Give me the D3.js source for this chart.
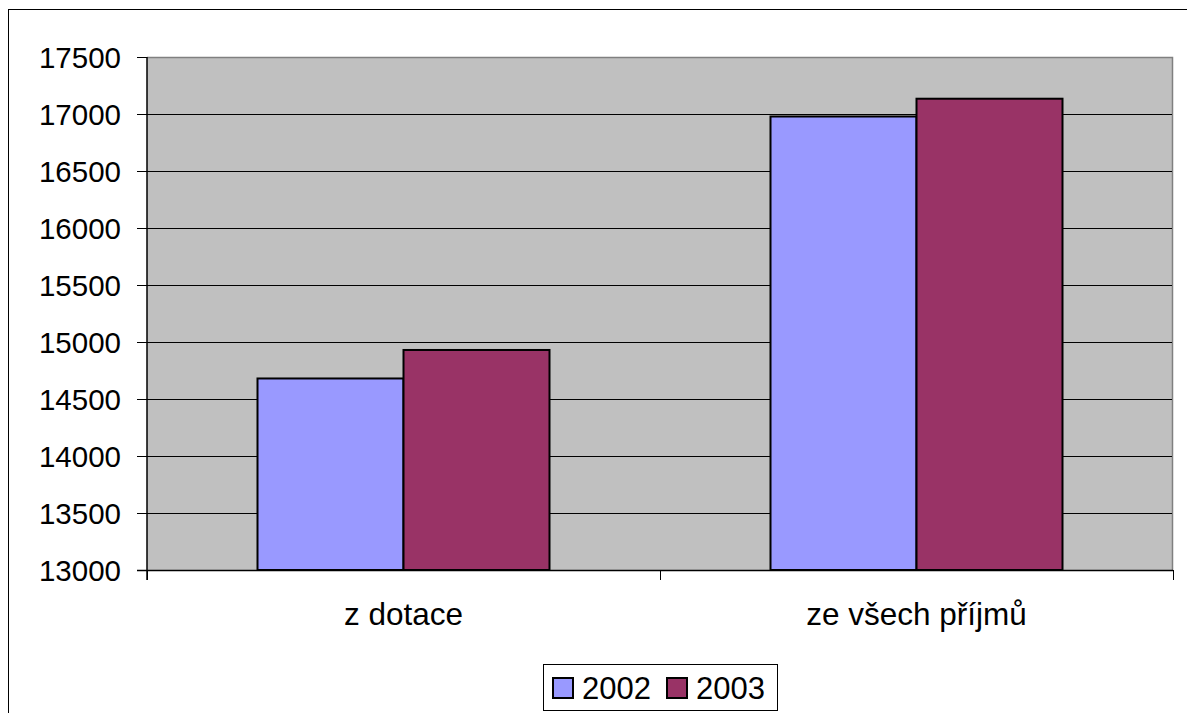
<!DOCTYPE html>
<html>
<head>
<meta charset="utf-8">
<script src="https://cdn.jsdelivr.net/npm/d3@7"></script>
<style>
  body { margin: 0; background: #fff; }
  svg { display: block; font-family: "Liberation Sans", Arial, sans-serif; }
</style>
</head>
<body>
<svg width="1187" height="713"></svg>
<script>
// chart data
var categories = ['z dotace', 'ze všech příjmů'];
var seriesNames = ['2002', '2003'];
var values2002 = [14680, 16978];
var values2003 = [14930, 17134];
var yTicks = [13000, 13500, 14000, 14500, 15000, 15500, 16000, 16500, 17000, 17500];
var colors = ['#9999FF', '#993366'];

var svg = d3.select('svg');

// outer frame (runs off the right and bottom edge)
svg.append('rect')
    .attr('x', 8.5).attr('y', 9.5)
    .attr('width', 1200).attr('height', 720)
    .attr('fill', 'none').attr('stroke', '#000').attr('stroke-width', 1);

var pLeft = 147, pRight = 1173, pTop = 57, pBottom = 570;

var x = d3.scaleBand().domain(categories).range([pLeft, pRight]).paddingInner(0).paddingOuter(0);
var y = d3.scaleLinear().domain([13000, 17500]).range([pBottom, pTop]);

// plot background
svg.append('rect')
    .attr('x', pLeft).attr('y', pTop)
    .attr('width', pRight - pLeft).attr('height', pBottom - pTop)
    .attr('fill', '#C0C0C0');
svg.append('path')
    .attr('d', 'M' + pLeft + ',' + (pTop + 0.5) + 'H' + (pRight - 0.5) + 'V' + pBottom)
    .attr('fill', 'none').attr('stroke', '#808080').attr('stroke-width', 1.5);

// gridlines
svg.append('g').selectAll('line')
    .data(yTicks.slice(1, -1))
    .enter().append('line')
    .attr('x1', pLeft).attr('x2', pRight - 1)
    .attr('y1', function(d){ return Math.round(y(d)) + 0.5; })
    .attr('y2', function(d){ return Math.round(y(d)) + 0.5; })
    .attr('stroke', '#000').attr('stroke-width', 1);

// bars
var gapFrac = 110.5 / 513;
var barW = x.bandwidth() * (1 - 2 * gapFrac) / 2;
var data = [];
categories.forEach(function(c, i){
    data.push({cat: c, s: 0, v: values2002[i]});
    data.push({cat: c, s: 1, v: values2003[i]});
});
svg.append('g').selectAll('rect')
    .data(data)
    .enter().append('rect')
    .attr('x', function(d){ return x(d.cat) + x.bandwidth() * gapFrac + d.s * barW; })
    .attr('y', function(d){ return y(d.v); })
    .attr('width', barW)
    .attr('height', function(d){ return pBottom - y(d.v); })
    .attr('fill', function(d){ return colors[d.s]; })
    .attr('stroke', '#000').attr('stroke-width', 2);

// y axis
var yAxis = d3.axisLeft(y).tickValues(yTicks).tickSize(10).tickPadding(16).tickFormat(d3.format('d'));
var ya = svg.append('g').attr('transform', 'translate(' + pLeft + ',0)').call(yAxis);
ya.select('.domain').attr('stroke', '#000').attr('stroke-width', 1.5)
    .attr('d', 'M0,' + pTop + 'V' + (pBottom + 10));
ya.selectAll('.tick line').attr('stroke', '#000');
ya.selectAll('text').attr('font-size', 29.5).attr('fill', '#000').attr('dy', '0.36em')
    .attr('font-family', '"Liberation Sans", Arial, sans-serif');

// x axis
svg.append('line')
    .attr('x1', pLeft - 10).attr('x2', pRight)
    .attr('y1', pBottom + 0.5).attr('y2', pBottom + 0.5)
    .attr('stroke', '#000').attr('stroke-width', 1.5);
var tickXs = categories.map(function(c){ return x(c); }).concat([pRight]);
svg.append('g').selectAll('line')
    .data(tickXs)
    .enter().append('line')
    .attr('x1', function(d){ return Math.round(d) + 0.5; })
    .attr('x2', function(d){ return Math.round(d) + 0.5; })
    .attr('y1', pBottom).attr('y2', pBottom + 10)
    .attr('stroke', '#000');
svg.append('g').selectAll('text')
    .data(categories)
    .enter().append('text')
    .attr('x', function(d){ return x(d) + x.bandwidth() / 2; })
    .attr('y', 625)
    .attr('text-anchor', 'middle')
    .attr('font-size', 31.5)
    .text(function(d){ return d; });

// legend
var lg = svg.append('g').attr('transform', 'translate(543,664)');
lg.append('rect')
    .attr('x', 0.5).attr('y', 0.5).attr('width', 234).attr('height', 46)
    .attr('fill', '#fff').attr('stroke', '#000').attr('stroke-width', 1);
var item = lg.selectAll('.item')
    .data(seriesNames)
    .enter().append('g')
    .attr('class', 'item')
    .attr('transform', function(d, i){ return 'translate(' + (10 + i * 114) + ',0)'; });
item.append('rect')
    .attr('x', 0).attr('y', 14).attr('width', 20).attr('height', 20)
    .attr('fill', function(d, i){ return colors[i]; })
    .attr('stroke', '#000').attr('stroke-width', 2);
item.append('text')
    .attr('x', 29).attr('y', 34.5)
    .attr('font-size', 31)
    .text(function(d){ return d; });
</script>
</body>
</html>
